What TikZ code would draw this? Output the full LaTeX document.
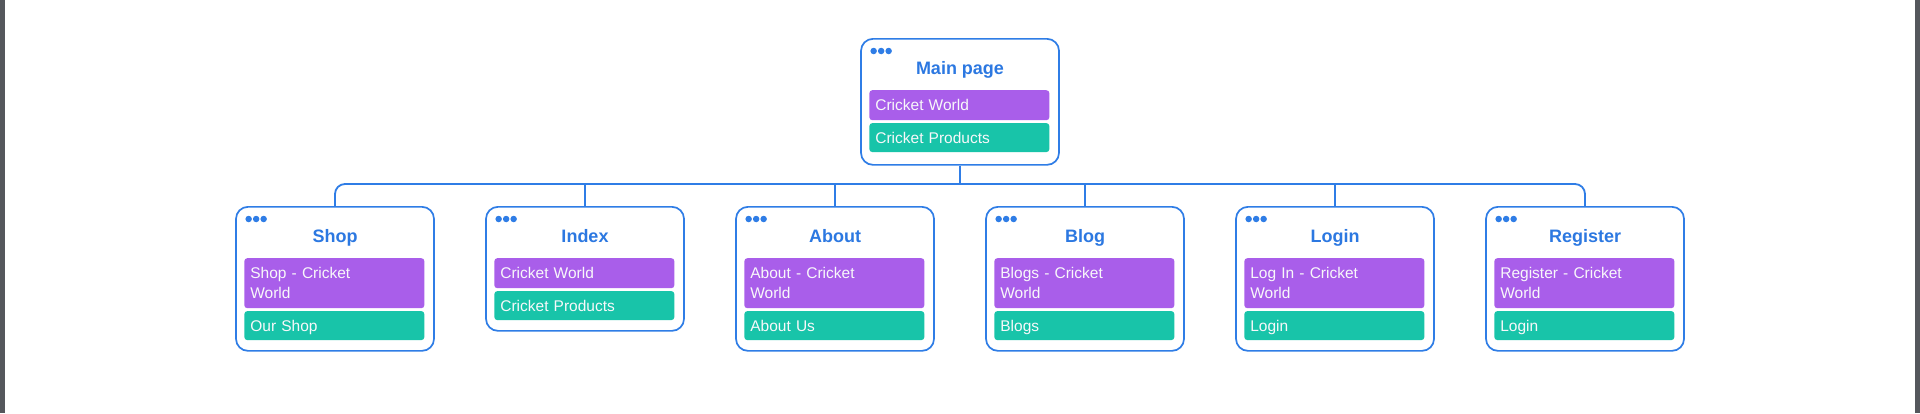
\documentclass[tikz,border=0pt]{standalone}
\usepackage{fontspec}
\setmainfont{Liberation Sans}
\usetikzlibrary{calc}
\definecolor{bblue}{RGB}{47,125,230}
\definecolor{tblue}{RGB}{44,120,225}
\definecolor{ppurple}{RGB}{169,94,234}
\definecolor{tteal}{RGB}{24,196,169}
\definecolor{sidebar}{RGB}{85,87,92}
\definecolor{ltext}{RGB}{248,248,250}
\newcommand\bst{\rule[-4.25pt]{0pt}{19.5pt}}
\tikzset{
  pagebox/.style={draw=bblue, line width=1.7pt, rounded corners=12pt, fill=white, minimum width=198pt, inner sep=0pt},
  dotmark/.style={circle, fill=bblue, inner sep=0pt, minimum size=6.5pt},
  titletext/.style={text=tblue, font=\bfseries\fontsize{18}{20}\selectfont, inner sep=0pt, anchor=base},
  barbase/.style={rounded corners=3pt, minimum width=180pt, text width=168pt, inner xsep=6pt, inner ysep=0pt, align=left, text=ltext, font=\fontsize{15.5}{19.5}\selectfont, anchor=north west},
  purplebar/.style={barbase, fill=ppurple},
  tealbar/.style={barbase, fill=tteal, minimum height=29pt},
  conn/.style={draw=bblue, line width=1.8pt},
}
\newcommand\webpage[8]{%
  \node[pagebox, minimum height=#8pt, anchor=north] (#1) at (#2,#3) {};
  \node[dotmark] (#1-d1) at ([shift={(13.5,13)}]#1.north west) {};
  \node[dotmark] (#1-d2) at ([shift={(21,13)}]#1.north west) {};
  \node[dotmark] (#1-d3) at ([shift={(28.5,13)}]#1.north west) {};
  \node[titletext] (#1-t) at ([shift={(0,36.5)}]#1.north) {#4};
  \node[purplebar, minimum height=#7pt] (#1-p) at ([shift={(9,52)}]#1.north west) {#5};
  \node[tealbar] (#1-g) at ([shift={(0,2.5)}]#1-p.south west) {\bst #6};
}
\begin{document}
\begin{tikzpicture}[x=1pt,y=-1pt]
  \fill[white] (0,0) rectangle (1920,413);
  \fill[sidebar] (0,0) rectangle (5,413);
  \fill[sidebar] (1915,0) rectangle (1920,413);
  \useasboundingbox (0,0) rectangle (1920,413);

  \webpage{main}{960}{38}{Main page}{\bst Cricket World}{Cricket Products}{30}{126}
  \webpage{shop}{335}{206}{Shop}{\bst Shop - Cricket\\World\bst}{Our Shop}{50}{144}
  \webpage{index}{585}{206}{Index}{\bst Cricket World}{Cricket Products}{30}{124}
  \webpage{about}{835}{206}{About}{\bst About - Cricket\\World\bst}{About Us}{50}{144}
  \webpage{blog}{1085}{206}{Blog}{\bst Blogs - Cricket\\World\bst}{Blogs}{50}{144}
  \webpage{login}{1335}{206}{Login}{\bst Log In - Cricket\\World\bst}{Login}{50}{144}
  \webpage{register}{1585}{206}{Register}{\bst Register - Cricket\\World\bst}{Login}{50}{144}

  \coordinate (bus) at (960,184);
  \draw[conn] (main.south) -- (bus);
  \draw[conn, rounded corners=10pt] (shop.north) |- (bus) -| (register.north);
  \draw[conn] (index.north) -- (index.north |- bus);
  \draw[conn] (about.north) -- (about.north |- bus);
  \draw[conn] (blog.north) -- (blog.north |- bus);
  \draw[conn] (login.north) -- (login.north |- bus);
\end{tikzpicture}
\end{document}
